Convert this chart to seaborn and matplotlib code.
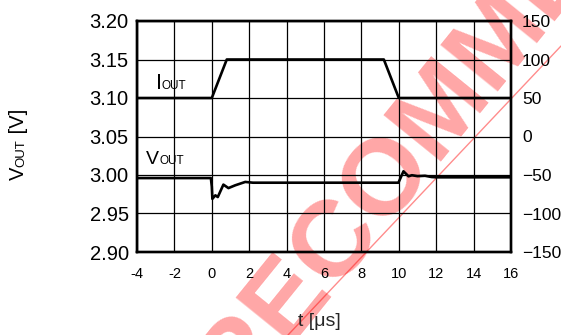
import matplotlib
matplotlib.use("Agg")
import matplotlib.pyplot as plt
import matplotlib.transforms as mtransforms
from matplotlib.lines import Line2D
from matplotlib.ticker import FixedLocator, FixedFormatter
import seaborn as sns

# ---- data -------------------------------------------------------------
# load current step (right axis, mA)
t_iout = [-4.0, 0.0, 0.8, 9.2, 10.0, 16.0]
iout_ma = [50, 50, 100, 100, 50, 50]

# output voltage response (left axis, V)
t_vout = [-4.0, -0.05, 0.0, 0.03, 0.19, 0.32, 0.62, 0.89, 1.25, 1.79, 2.2,
          9.98, 10.25, 10.52, 10.7, 11.0, 11.4, 11.75, 12.0, 16.0]
vout_v = [2.996, 2.996, 2.985, 2.969, 2.9736, 2.9714, 2.9875, 2.983, 2.9866,
          2.991, 2.990, 2.990, 3.0048, 2.9983, 2.9997, 2.9985, 2.9990, 2.9974,
          2.997, 2.997]

x_ticks = [-4, -2, 0, 2, 4, 6, 8, 10, 12, 14, 16]
x_tick_labels = ["-4", "-2", "0", "2", "4", "6", "8", "10", "12", "14", "16"]
v_ticks = [2.90, 2.95, 3.00, 3.05, 3.10, 3.15, 3.20]
v_tick_labels = ["2.90", "2.95", "3.00", "3.05", "3.10", "3.15", "3.20"]
i_ticks = [-150, -100, -50, 0, 50, 100, 150]
i_tick_labels = ["\u2212150", "\u2212100", "\u221250", "0", "50", "100", "150"]

# ---- style ------------------------------------------------------------
sns.set_style("white")
plt.rcParams["font.family"] = ["Liberation Sans", "DejaVu Sans"]

W, H, DPI = 561, 335, 100
fig = plt.figure(figsize=(W / DPI, H / DPI), dpi=DPI, facecolor="white")
ax = fig.add_axes([137 / W, 1 - 252 / H, (511 - 137) / W, (252 - 21) / H])
ax.patch.set_alpha(0)
ax2 = ax.twinx()
ax2.patch.set_alpha(0)

sns.lineplot(x=t_vout, y=vout_v, ax=ax, color="black", lw=1.9,
             estimator=None, sort=False, zorder=5)
sns.lineplot(x=t_iout, y=iout_ma, ax=ax2, color="black", lw=1.9,
             estimator=None, sort=False, zorder=5)

ax.set_xlim(-4, 16)
ax.set_ylim(2.90, 3.20)
ax2.set_ylim(-150, 150)

ax.xaxis.set_major_locator(FixedLocator(x_ticks))
ax.xaxis.set_major_formatter(FixedFormatter(x_tick_labels))
ax.yaxis.set_major_locator(FixedLocator(v_ticks))
ax.yaxis.set_major_formatter(FixedFormatter(v_tick_labels))
ax2.yaxis.set_major_locator(FixedLocator(i_ticks))
ax2.yaxis.set_major_formatter(FixedFormatter(i_tick_labels))

ax.grid(True, color="black", lw=0.9)
ax.set_axisbelow(True)
ax.tick_params(axis="x", length=0, labelsize=10.5, pad=11, colors="black")
ax.tick_params(axis="y", length=0, labelsize=14.5, pad=6, colors="black")
ax2.tick_params(axis="y", length=0, labelsize=12.5, pad=8, colors="black")

for a in (ax, ax2):
    for s in a.spines.values():
        s.set_linewidth(1.7)
        s.set_color("black")
ax.set_xlabel("")
ax.set_ylabel("")
ax2.set_ylabel("")

renderer = fig.canvas.get_renderer()


def text_width_pt(s, size):
    tmp = fig.text(0, 0, s, fontsize=size)
    w = tmp.get_window_extent(renderer).width
    tmp.remove()
    return w * 72.0 / fig.dpi


def compound_label(x, y, parts, transform, rotation=0):
    """Draw text pieces of different sizes on a common baseline."""
    offset = 0.0
    for s, size in parts:
        if rotation == 0:
            tr = mtransforms.offset_copy(transform, fig=fig, x=offset, y=0, units="points")
        else:
            tr = mtransforms.offset_copy(transform, fig=fig, x=0, y=offset, units="points")
        fig.text(x, y, s, fontsize=size, transform=tr, ha="left", va="baseline",
                 rotation=rotation, rotation_mode="anchor", color="black", zorder=6)
        offset += text_width_pt(s, size)


# curve labels
compound_label(156 / W, 1 - 89 / H, [("I", 15.5), ("OUT", 8.5)], fig.transFigure)
compound_label(146 / W, 1 - 164 / H, [("V", 14), ("OUT", 8.5)], fig.transFigure)

# axis titles
compound_label(24 / W, 1 - 180 / H, [("V", 14.5), ("OUT", 9.5), (" [V]", 14.5)],
               fig.transFigure, rotation=90)
fig.text(319 / W, 1 - 321 / H, "t [\u03bcs]", fontsize=14, ha="center", va="center")

# watermark
fig.text(412 / W, 1 - 154 / H, "NOT RECOMMENDED", fontsize=78, fontweight="bold",
         color="red", alpha=0.35, rotation=51, ha="center", va="center",
         rotation_mode="anchor", zorder=-1)
fig.add_artist(Line2D([288 / W, 561 / W], [1 - 335 / H, 1 - 46 / H],
                      transform=fig.transFigure, color="red", alpha=0.45,
                      lw=1.0, zorder=-1))

fig.savefig("out.png", dpi=DPI, facecolor="white")
